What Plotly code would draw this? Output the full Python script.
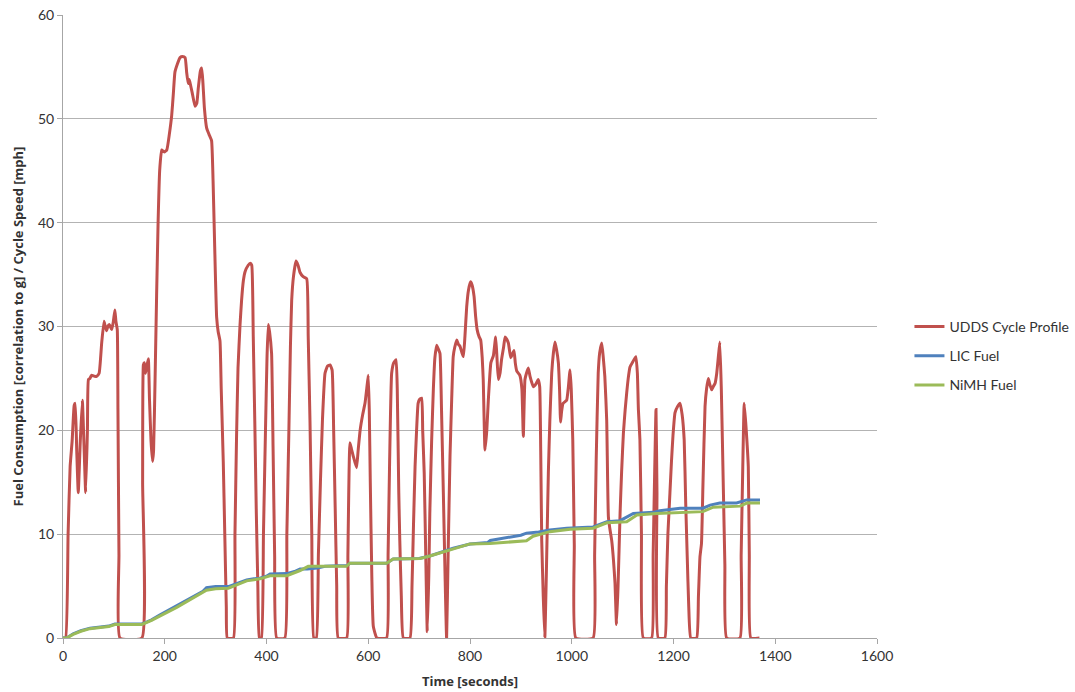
import plotly.graph_objects as go

# UDDS cycle speed profile [mph]
udds_t = [0, 5, 10, 14, 18, 22, 24, 27, 30, 34, 38, 41, 44.6, 48, 50, 53, 56, 62, 66, 71, 76, 80.6, 83, 85.8, 88, 91, 95.7, 99, 102, 104, 106.7, 108, 110, 112,
          155, 156.5, 158, 160, 162, 164, 167.7, 170, 173, 176, 178, 181, 184, 187, 190, 194, 199, 204, 209, 213.6, 217, 220, 225, 230, 235, 240, 243, 246, 248, 249.6,
          254, 259.5, 263, 266, 270, 272.6, 275, 278, 282.4, 287, 292, 295, 298, 302, 305, 308.6, 311, 315, 318, 321, 323,
          335, 338, 341, 344, 348, 351, 354.5, 358, 364, 368, 371, 374, 377, 380, 383, 386,
          390, 394, 398, 401, 403.5, 406, 410, 413, 416, 420,
          436, 440, 444, 447, 449.5, 453, 458, 462, 466, 472, 479, 482, 485.5, 489, 493,
          498, 502, 506, 510, 515, 520, 525, 529, 532, 535, 538, 541,
          557.6, 560, 564, 567, 570.6, 577, 580, 584, 589, 593.6, 597, 600, 602, 604, 607, 610, 617,
          636, 639, 642, 646, 650, 654.6, 657, 660, 662, 665, 669,
          682, 686, 689, 692, 695, 698, 701, 705, 707, 710, 713, 716, 719, 721, 724.6, 728, 731, 734.5, 738, 741, 744, 747.6, 751, 754,
          757, 760.7, 764, 767, 770, 774, 777, 780.3, 784, 787, 790, 793.5, 797, 801, 804, 808, 811, 814, 818, 821, 824, 826, 829.5,
          833, 836, 841, 846, 850.5, 853, 855.7, 859, 862, 866, 869, 872, 875.5, 880, 883, 886.5, 889, 892, 898, 902, 904.8,
          908, 911, 914.6, 918, 924.4, 930, 934, 937, 939, 941, 944, 947,
          950, 954, 957, 960.6, 964, 967, 970, 973.7, 976, 978, 980, 983, 990, 993, 996.6, 999, 1002, 1005, 1008,
          1042, 1045, 1048, 1052, 1055, 1059, 1062, 1065, 1068.7, 1072, 1075, 1078.5, 1082, 1085, 1088,
          1091, 1095, 1098, 1101.5, 1105, 1108, 1111, 1114.5, 1120, 1126, 1129, 1131, 1134, 1137, 1140.6,
          1157, 1160, 1163, 1165.6, 1167.5, 1170,
          1183, 1186, 1189, 1193, 1196, 1199, 1203, 1208, 1213, 1217, 1221, 1224, 1227, 1230, 1234,
          1245.5, 1249, 1252, 1255, 1258, 1262, 1265, 1268.5, 1271, 1275, 1278, 1281.6, 1285, 1288, 1291, 1294, 1298, 1301, 1304.5,
          1330.6, 1333, 1336, 1339, 1343, 1347, 1349, 1352, 1369]
udds_v = [0, 0, 10, 16.5, 19, 22.4, 22.6, 18, 14, 19, 22.9, 19, 14, 20, 24.9, 25, 25.3, 25.2, 25.2, 25.5, 28.4, 30.5, 30, 29.6, 30, 30.2, 29.7, 30.5, 31.6, 30.5, 29.7, 22, 8, 0,
          0, 15, 26.3, 26.5, 25.5, 26, 26.9, 23, 19, 17, 18, 25, 33, 40.2, 45, 47, 46.8, 47, 48.5, 50.3, 52.5, 54.5, 55.3, 55.9, 56, 55.9, 54.5, 53.4, 53.8, 53.5,
          52.5, 51.2, 51.5, 53, 54.6, 54.9, 53.5, 51, 49.1, 48.5, 47.9, 44, 38, 30.9, 29.5, 28.6, 24, 17, 10, 3, 0,
          0, 10, 19, 26, 30.2, 32.5, 34.4, 35.3, 35.9, 36.1, 35.9, 29, 20.8, 12, 5, 0,
          0, 10, 20, 27, 30.2, 29.5, 27.4, 18, 8, 0,
          0, 10, 20, 28, 32.5, 34.8, 36.3, 35.9, 35.2, 34.8, 34.6, 29, 20.8, 10, 0,
          0, 8, 15, 21, 25.5, 26.2, 26.3, 25.8, 20, 12.6, 5, 0,
          0, 8, 18.8, 18.2, 17.5, 16.4, 18, 20, 21.5, 22.6, 24, 25.3, 22, 15, 6, 1.1, 0,
          0, 8, 17, 25.5, 26.5, 26.8, 24, 14, 9.4, 4, 0,
          0, 5, 11, 16.5, 20, 22.6, 23, 23.1, 20, 15.9, 8, 0.6, 6, 12, 19, 24, 27, 28.2, 27.8, 27.4, 22, 14, 6, 0,
          8, 17.5, 23, 27.1, 28, 28.7, 28.3, 28.1, 27.5, 27.1, 29, 31.9, 33.5, 34.3, 34, 32.9, 31, 29.7, 29, 28.7, 27, 24.9, 18.1,
          20, 22.9, 26.5, 27.2, 29, 27, 24.9, 25.5, 26.8, 28, 29, 28.8, 28.4, 27, 27.3, 27.7, 26.5, 25.7, 25.3, 24, 19.4,
          24.9, 25.5, 26, 25.2, 24.2, 24.5, 24.9, 24.2, 18, 9.4, 4, 0,
          6, 15.9, 21, 25.5, 27.5, 28.5, 27.8, 26.5, 24, 20.8, 21.8, 22.6, 22.9, 24, 25.8, 24, 19.1, 9, 0,
          0, 8, 17, 25.5, 27.5, 28.4, 27, 25.2, 21, 11.7, 10.5, 9.4, 7.5, 5.3, 1.3,
          5, 12, 16, 19.7, 22, 23.6, 25, 26.1, 26.6, 27.1, 25.5, 22, 19.1, 10, 0,
          0, 8, 16, 22, 14, 0,
          0, 5, 10, 14, 17, 19.5, 21.7, 22.3, 22.6, 21.5, 19.1, 13, 7.8, 3, 0,
          0, 4, 7.8, 9.1, 15, 22.3, 24, 25, 24.5, 23.9, 24.2, 24.5, 25.5, 27, 28.5, 24, 14.3, 7, 0,
          0, 8, 16, 22.6, 20, 16.5, 8, 0, 0]

# LIC fuel consumption
lic_t = [0, 7, 20, 35, 53, 70, 90, 102, 120, 155, 165, 174, 190, 205, 223.5, 240, 260, 275, 282, 300, 325, 340, 361, 375, 387, 400, 407, 440, 455, 466, 480, 500, 515, 540, 557,
         564, 636, 649, 700, 721, 747, 767, 800, 835, 840, 865, 900, 911, 935, 957, 990, 1042, 1069, 1095, 1121, 1160, 1173, 1213, 1258, 1272, 1291, 1324, 1344, 1370]
lic_v = [0, 0, 0.4, 0.7, 0.95, 1.05, 1.15, 1.35, 1.35, 1.35, 1.55, 1.75, 2.2, 2.6, 3.05, 3.5, 4.05, 4.5, 4.85, 4.95, 4.95, 5.2, 5.6, 5.7, 5.75, 5.95, 6.17, 6.2, 6.4, 6.65, 6.65, 6.75, 6.9, 6.95, 6.95,
         7.2, 7.2, 7.6, 7.65, 7.9, 8.3, 8.64, 9.06, 9.2, 9.4, 9.6, 9.9, 10.1, 10.2, 10.4, 10.57, 10.7, 11.2, 11.3, 12.0, 12.1, 12.25, 12.5, 12.5, 12.8, 13.0, 13.0, 13.3, 13.3]

# NiMH fuel consumption
nimh_t = [0, 7, 20, 35, 53, 70, 90, 102, 155, 174, 223.5, 282, 300, 325, 340, 361, 387, 407, 440, 466, 482, 557, 564, 636, 649, 702, 721, 748, 767, 800, 839, 865, 911,
          924, 957, 997, 1042, 1069, 1108, 1128, 1167, 1258, 1278, 1331, 1344, 1370]
nimh_v = [0, 0, 0.35, 0.65, 0.9, 1.0, 1.1, 1.3, 1.3, 1.7, 2.95, 4.6, 4.75, 4.8, 5.1, 5.5, 5.7, 6.0, 6.0, 6.5, 6.9, 6.9, 7.2, 7.2, 7.6, 7.65, 7.9, 8.3, 8.64, 9.06, 9.1, 9.2, 9.37,
          9.8, 10.24, 10.47, 10.57, 11.1, 11.2, 11.85, 12.0, 12.17, 12.6, 12.7, 13.0, 13.0]

x_ticks = [0, 200, 400, 600, 800, 1000, 1200, 1400, 1600]
y_ticks = [0, 10, 20, 30, 40, 50, 60]

FONT = "Lato, 'Open Sans', sans-serif"
TFONT = "'Open Sans', Lato, sans-serif"

fig = go.Figure()
fig.add_trace(go.Scatter(x=udds_t, y=udds_v, mode="lines", name="UDDS Cycle Profile",
                         legendgroup="a", line=dict(color="#C0504D", width=3, shape="spline", smoothing=0.4)))
fig.add_trace(go.Scatter(x=lic_t, y=lic_v, mode="lines", name="LIC Fuel",
                         legendgroup="b", line=dict(color="#4F81BD", width=3)))
fig.add_trace(go.Scatter(x=nimh_t, y=nimh_v, mode="lines", name="NiMH Fuel",
                         legendgroup="c", line=dict(color="#9BBB59", width=3)))

fig.update_layout(
    width=1075, height=692,
    margin=dict(l=63, r=198, t=15, b=54),
    paper_bgcolor="white", plot_bgcolor="white",
    font=dict(family=FONT, size=13, color="#333333"),
    showlegend=True,
    legend=dict(xref="container", yref="container", x=0.846, y=1 - 356 / 692,
                xanchor="left", yanchor="middle",
                font=dict(family=FONT, size=14, color="#333333"),
                tracegroupgap=8, itemwidth=30, bgcolor="rgba(0,0,0,0)"),
)
fig.update_xaxes(range=[0, 1600], tickvals=x_ticks, ticktext=[str(v) for v in x_ticks],
                 automargin=False,
                 showgrid=False, zeroline=False, showline=True, linecolor="#a6a6a6", linewidth=1,
                 ticks="outside", ticklen=5, tickcolor="#a6a6a6",
                 tickfont=dict(family=FONT, size=14, color="#333333"),
                 title=dict(text="<b>Time [seconds]</b>", font=dict(family=TFONT, size=13, color="#333333"), standoff=14))
fig.update_yaxes(range=[0, 60], tickvals=y_ticks, ticktext=[str(v) for v in y_ticks],
                 automargin=False,
                 showgrid=True, gridcolor="#b3b3b3", gridwidth=1, zeroline=False,
                 showline=True, linecolor="#a6a6a6", linewidth=1,
                 ticks="outside", ticklen=5, tickcolor="#a6a6a6",
                 tickfont=dict(family=FONT, size=14, color="#333333"),
                 title=dict(text="<b>Fuel Consumption [correlation to g] / Cycle Speed [mph]</b>",
                            font=dict(family=TFONT, size=13, color="#333333"), standoff=11))

fig.write_html("out.html")
